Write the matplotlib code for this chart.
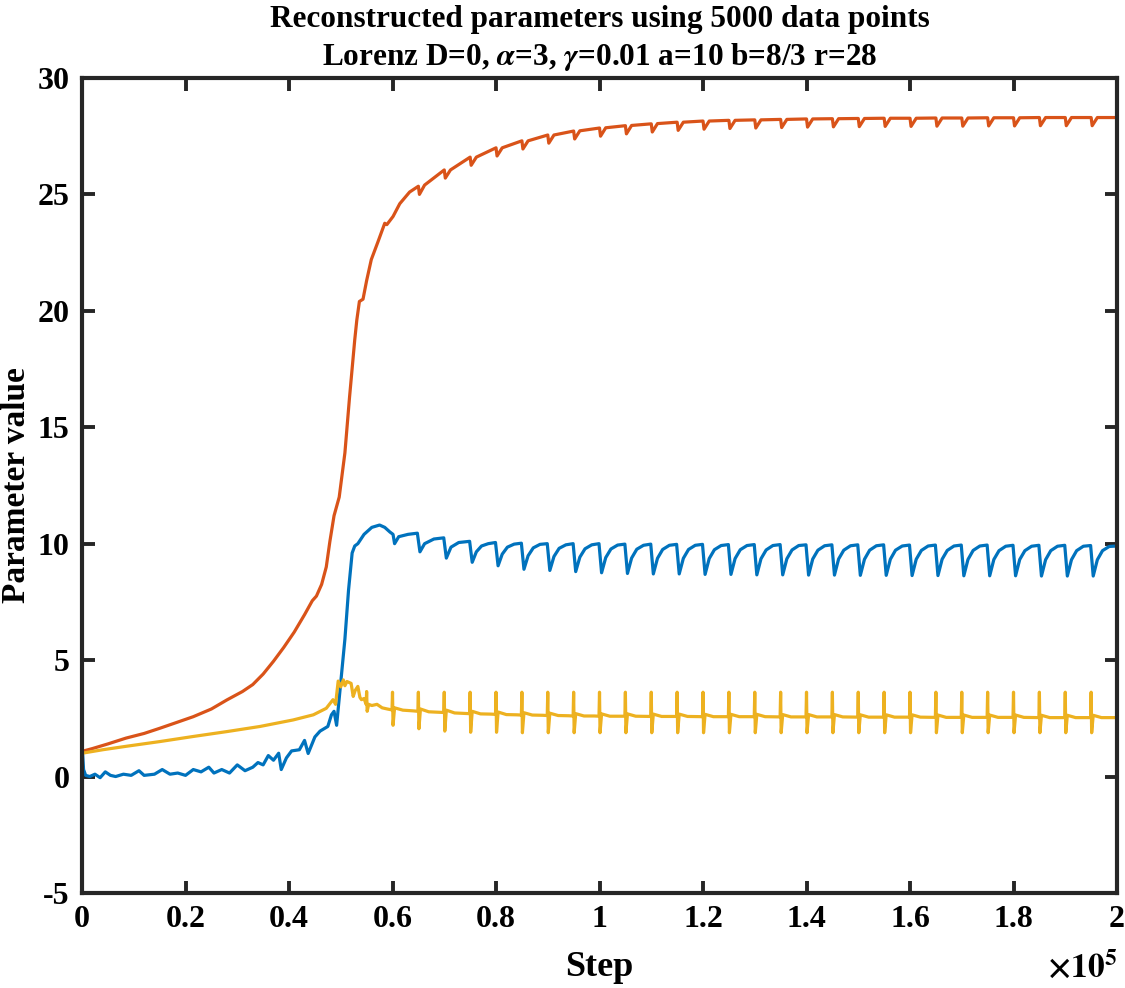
import numpy as np
import matplotlib
matplotlib.use("Agg")
import matplotlib.pyplot as plt
from matplotlib.ticker import FuncFormatter

# x values are in thousands of steps
# parameter a (blue)
a_steps = [
    0, 0.3, 0.7, 1.5, 2.5, 3.5, 4.5, 5.5, 6.5, 8, 9.5, 11, 12, 14, 15.5, 17, 18.5, 20,
    21.5, 23, 24.5, 25.5, 27, 28.5, 30, 31.5, 33, 34, 35, 36, 37, 38, 38.5, 39.5, 40.5,
    42, 43, 43.7, 45, 46, 47.5, 48.2, 48.7, 49.2, 49.8, 50.8, 51.5, 52.2, 52.7, 53.3,
    54.5, 56, 57.5, 58.5, 59.5, 60.1, 60.4, 61.2, 63, 64.8, 65.3, 66.2, 68, 69.9, 70.4, 71.3,
    72.8, 74.9,
    75.4, 76.2, 77.2, 78.5, 79.9,
    80.4, 81.2, 82.2, 83.5, 84.9,
    85.4, 86.2, 87.2, 88.5, 89.9,
    90.4, 91.2, 92.2, 93.5, 94.9,
    95.4, 96.2, 97.2, 98.5, 99.9,
    100.4, 101.2, 102.2, 103.5, 104.9,
    105.4, 106.2, 107.2, 108.5, 109.9,
    110.4, 111.2, 112.2, 113.5, 114.9,
    115.4, 116.2, 117.2, 118.5, 119.9,
    120.4, 121.2, 122.2, 123.5, 124.9,
    125.4, 126.2, 127.2, 128.5, 129.9,
    130.4, 131.2, 132.2, 133.5, 134.9,
    135.4, 136.2, 137.2, 138.5, 139.9,
    140.4, 141.2, 142.2, 143.5, 144.9,
    145.4, 146.2, 147.2, 148.5, 149.9,
    150.4, 151.2, 152.2, 153.5, 154.9,
    155.4, 156.2, 157.2, 158.5, 159.9,
    160.4, 161.2, 162.2, 163.5, 164.9,
    165.4, 166.2, 167.2, 168.5, 169.9,
    170.4, 171.2, 172.2, 173.5, 174.9,
    175.4, 176.2, 177.2, 178.5, 179.9,
    180.4, 181.2, 182.2, 183.5, 184.9,
    185.4, 186.2, 187.2, 188.5, 189.9,
    190.4, 191.2, 192.2, 193.5, 194.9,
    195.4, 196.2, 197.2, 198.5, 200,
]
a_vals = [
    1.4, 0.3, 0.05, 0.0, 0.1, -0.05, 0.2, 0.05, 0.0, 0.1, 0.05, 0.25, 0.05, 0.1, 0.3, 0.1, 0.15, 0.05,
    0.3, 0.2, 0.4, 0.15, 0.3, 0.15, 0.5, 0.25, 0.4, 0.6, 0.5, 0.9, 0.7, 1.0, 0.3, 0.8, 1.1,
    1.15, 1.55, 0.99, 1.7, 1.95, 2.15, 2.65, 2.8, 2.2, 3.6, 5.9, 8.0, 9.6, 9.9, 10.0,
    10.4, 10.7, 10.8, 10.7, 10.5, 10.4, 10.0, 10.3, 10.4, 10.45, 9.65, 10.0, 10.2, 10.25, 9.38, 9.85,
    10.05, 10.1,
    9.2, 9.65, 9.9, 10.0, 10.05,
    9.05, 9.55, 9.85, 9.98, 10.02,
    8.9, 9.48, 9.82, 9.97, 10.0,
    8.85, 9.45, 9.8, 9.95, 10.0,
    8.8, 9.42, 9.78, 9.95, 10.0,
    8.75, 9.4, 9.77, 9.94, 9.98,
    8.72, 9.38, 9.76, 9.93, 9.98,
    8.7, 9.37, 9.75, 9.93, 9.97,
    8.7, 9.37, 9.75, 9.93, 9.97,
    8.68, 9.36, 9.74, 9.92, 9.96,
    8.68, 9.36, 9.74, 9.92, 9.96,
    8.66, 9.35, 9.73, 9.92, 9.96,
    8.66, 9.35, 9.73, 9.92, 9.95,
    8.65, 9.34, 9.72, 9.91, 9.95,
    8.65, 9.34, 9.72, 9.91, 9.95,
    8.64, 9.33, 9.72, 9.91, 9.95,
    8.64, 9.33, 9.72, 9.9, 9.94,
    8.63, 9.33, 9.71, 9.9, 9.94,
    8.63, 9.33, 9.71, 9.9, 9.94,
    8.62, 9.32, 9.71, 9.9, 9.94,
    8.62, 9.32, 9.7, 9.89, 9.93,
    8.62, 9.32, 9.7, 9.89, 9.93,
    8.61, 9.31, 9.7, 9.89, 9.93,
    8.61, 9.31, 9.7, 9.89, 9.92,
    8.61, 9.31, 9.7, 9.88, 9.9,
]

# parameter r (orange)
r_steps = [
    0, 2, 5, 8.5, 12, 15, 18, 21.5, 25, 28, 31, 33, 35, 37, 39, 41, 43, 44.5, 45.3, 46.3,
    47.2, 47.9, 48.7, 49.7, 50.8, 51.7, 52.7, 53.1, 53.6, 54.3, 55.0, 55.9, 57.2, 58.5, 58.9,
    60.1, 61.4, 63.3,
    65.0, 65.2, 66.2, 70.0, 70.2, 71.2, 75.0, 75.2, 76.2, 80.0, 80.2, 81.2,
    85.0, 85.2, 86.2, 90.0, 90.2, 91.2, 95.0, 95.2, 96.2, 100.0, 100.2, 101.2,
    105.0, 105.2, 106.2, 110.0, 110.2, 111.2, 115.0, 115.2, 116.2, 120.0, 120.2, 121.2,
    125.0, 125.2, 126.2, 130.0, 130.2, 131.2, 135.0, 135.2, 136.2, 140.0, 140.2, 141.2,
    145.0, 145.2, 146.2, 150.0, 150.2, 151.2, 155.0, 155.2, 156.2, 160.0, 160.2, 161.2,
    165.0, 165.2, 166.2, 170.0, 170.2, 171.2, 175.0, 175.2, 176.2, 180.0, 180.2, 181.2,
    185.0, 185.2, 186.2, 190.0, 190.2, 191.2, 195.0, 195.2, 196.2, 200.0,
]
r_vals = [
    1.08, 1.2, 1.4, 1.65, 1.85, 2.07, 2.3, 2.57, 2.9, 3.29, 3.65, 3.95, 4.4, 4.95, 5.55, 6.2, 6.95, 7.55, 7.75, 8.25,
    9.0, 10.1, 11.2, 12.0, 13.9, 16.3, 18.75, 19.6, 20.4, 20.5, 21.3, 22.2, 22.97, 23.76, 23.7,
    24.05, 24.6, 25.1,
    25.35, 25.0, 25.4, 26.05, 25.7, 26.05, 26.6, 26.25, 26.6, 27.0, 26.65, 27.0,
    27.3, 26.95, 27.3, 27.55, 27.2, 27.55, 27.72, 27.38, 27.73, 27.85, 27.5, 27.86,
    27.95, 27.6, 27.96, 28.03, 27.68, 28.04, 28.1, 27.75, 28.1, 28.15, 27.8, 28.15,
    28.18, 27.83, 28.18, 28.2, 27.85, 28.2, 28.22, 27.87, 28.22, 28.24, 27.89, 28.24,
    28.25, 27.9, 28.25, 28.26, 27.91, 28.26, 28.27, 27.92, 28.27, 28.27, 27.92, 28.27,
    28.28, 27.93, 28.28, 28.28, 27.93, 28.28, 28.29, 27.94, 28.29, 28.29, 27.94, 28.29,
    28.3, 27.95, 28.3, 28.3, 27.95, 28.3, 28.3, 27.95, 28.3, 28.3,
]

# parameter b (yellow)
b_steps = [
    0, 4, 8.6, 15, 21.5, 28, 34.4, 40.8, 44.7, 47.2, 48.5, 49.0, 49.5, 50.0, 50.5, 50.8,
    51.2, 52.0, 52.4, 52.8, 53.3, 53.7, 54.0, 54.5,
    54.9, 55.0, 55.1, 55.4, 56.0, 57.0, 58.0, 59.0,
    59.9, 60.0, 60.1, 60.4, 62.0, 64.0,
    64.9, 65.0, 65.1, 65.4, 67.0, 69.0,
    69.9, 70.0, 70.1, 70.4, 72.0, 74.0,
    74.9, 75.0, 75.1, 75.4, 77.0, 79.0,
    79.9, 80.0, 80.1, 80.4, 82.0, 84.0,
    84.9, 85.0, 85.1, 85.4, 87.0, 89.0,
    89.9, 90.0, 90.1, 90.4, 92.0, 94.0,
    94.9, 95.0, 95.1, 95.4, 97.0, 99.0,
    99.9, 100.0, 100.1, 100.4, 102.0, 104.0,
    104.9, 105.0, 105.1, 105.4, 107.0, 109.0,
    109.9, 110.0, 110.1, 110.4, 112.0, 114.0,
    114.9, 115.0, 115.1, 115.4, 117.0, 119.0,
    119.9, 120.0, 120.1, 120.4, 122.0, 124.0,
    124.9, 125.0, 125.1, 125.4, 127.0, 129.0,
    129.9, 130.0, 130.1, 130.4, 132.0, 134.0,
    134.9, 135.0, 135.1, 135.4, 137.0, 139.0,
    139.9, 140.0, 140.1, 140.4, 142.0, 144.0,
    144.9, 145.0, 145.1, 145.4, 147.0, 149.0,
    149.9, 150.0, 150.1, 150.4, 152.0, 154.0,
    154.9, 155.0, 155.1, 155.4, 157.0, 159.0,
    159.9, 160.0, 160.1, 160.4, 162.0, 164.0,
    164.9, 165.0, 165.1, 165.4, 167.0, 169.0,
    169.9, 170.0, 170.1, 170.4, 172.0, 174.0,
    174.9, 175.0, 175.1, 175.4, 177.0, 179.0,
    179.9, 180.0, 180.1, 180.4, 182.0, 184.0,
    184.9, 185.0, 185.1, 185.4, 187.0, 189.0,
    189.9, 190.0, 190.1, 190.4, 192.0, 194.0,
    194.9, 195.0, 195.1, 195.4, 197.0, 200.0,
]
b_vals = [
    1.0, 1.15, 1.3, 1.5, 1.72, 1.93, 2.15, 2.43, 2.65, 2.93, 3.3, 3.1, 4.1, 3.85, 4.15, 3.9,
    4.08, 4.0, 3.44, 3.7, 3.87, 3.4, 3.3, 3.35,
    3.1, 3.65, 2.8, 3.1, 3.05, 3.1, 2.95, 2.9,
    2.86, 3.62, 2.2, 2.95, 2.85, 2.82,
    2.8, 3.62, 2.05, 2.9, 2.78, 2.76,
    2.75, 3.62, 1.95, 2.85, 2.73, 2.71,
    2.7, 3.62, 1.9, 2.8, 2.69, 2.68,
    2.67, 3.62, 1.9, 2.77, 2.66, 2.65,
    2.64, 3.62, 1.88, 2.74, 2.64, 2.63,
    2.62, 3.62, 1.88, 2.72, 2.62, 2.61,
    2.6, 3.62, 1.88, 2.7, 2.6, 2.6,
    2.59, 3.62, 1.88, 2.69, 2.59, 2.59,
    2.59, 3.62, 1.88, 2.69, 2.59, 2.58,
    2.58, 3.62, 1.88, 2.68, 2.58, 2.58,
    2.58, 3.62, 1.88, 2.68, 2.58, 2.57,
    2.57, 3.62, 1.88, 2.67, 2.57, 2.57,
    2.57, 3.62, 1.88, 2.67, 2.57, 2.57,
    2.57, 3.62, 1.88, 2.67, 2.57, 2.56,
    2.56, 3.62, 1.88, 2.66, 2.56, 2.56,
    2.56, 3.62, 1.88, 2.66, 2.56, 2.56,
    2.56, 3.62, 1.88, 2.66, 2.56, 2.55,
    2.55, 3.62, 1.88, 2.65, 2.55, 2.55,
    2.55, 3.62, 1.88, 2.65, 2.55, 2.55,
    2.55, 3.62, 1.88, 2.65, 2.55, 2.54,
    2.54, 3.62, 1.88, 2.64, 2.54, 2.54,
    2.54, 3.62, 1.88, 2.64, 2.54, 2.54,
    2.54, 3.62, 1.88, 2.64, 2.54, 2.54,
    2.54, 3.62, 1.88, 2.64, 2.54, 2.53,
    2.53, 3.62, 1.88, 2.63, 2.53, 2.53,
    2.53, 3.62, 1.88, 2.63, 2.53, 2.53,
    2.53, 3.62, 1.88, 2.63, 2.53, 2.53,
]

x_ticks = [0, 0.2, 0.4, 0.6, 0.8, 1, 1.2, 1.4, 1.6, 1.8, 2]   # x 1e5
y_ticks = [-5, 0, 5, 10, 15, 20, 25, 30]

plt.rcParams["font.family"] = ["Liberation Serif", "DejaVu Serif"]
plt.rcParams["font.weight"] = "bold"
plt.rcParams["mathtext.fontset"] = "stix"
plt.rcParams["axes.unicode_minus"] = False

fig = plt.figure(figsize=(11.25, 9.88), dpi=100)
ax = fig.add_axes([0.0729, 0.0962, 0.9200, 0.8249])

lw = 2.3
ax.plot(np.array(a_steps) * 1000, a_vals, color="#0072BD", lw=lw)
ax.plot(np.array(r_steps) * 1000, r_vals, color="#D95319", lw=lw)
ax.plot(np.array(b_steps) * 1000, b_vals, color="#EDB120", lw=lw)

ax.set_xlim(0, 2e5)
ax.set_ylim(-5, 30)
ax.set_xticks([t * 1e5 for t in x_ticks])
ax.set_yticks(y_ticks)
ax.xaxis.set_major_formatter(FuncFormatter(lambda v, p: f"{v / 1e5:g}"))
ax.tick_params(direction="in", length=9, width=2.8, labelsize=23, pad=9,
               top=True, right=True, color="#262626")
for s in ax.spines.values():
    s.set_linewidth(3.0)
    s.set_color("#262626")

ax.set_xlabel("Step", fontsize=26, fontweight="bold", labelpad=12)
ax.set_ylabel("Parameter value", fontsize=24, fontweight="bold", va="center")
ax.yaxis.set_label_coords(-0.0635, 0.5)
ax.set_title("Reconstructed parameters using 5000 data points\n"
             r"Lorenz D=0, $\alpha$=3, $\gamma$=0.01 a=10 b=8/3 r=28",
             fontsize=22.5, fontweight="bold", linespacing=1.3, pad=9)
ax.text(1.0, -0.093, r"$\times\mathbf{10^{5}}$", transform=ax.transAxes,
        ha="right", va="center", fontsize=24)

fig.savefig("out.png", dpi=100)
